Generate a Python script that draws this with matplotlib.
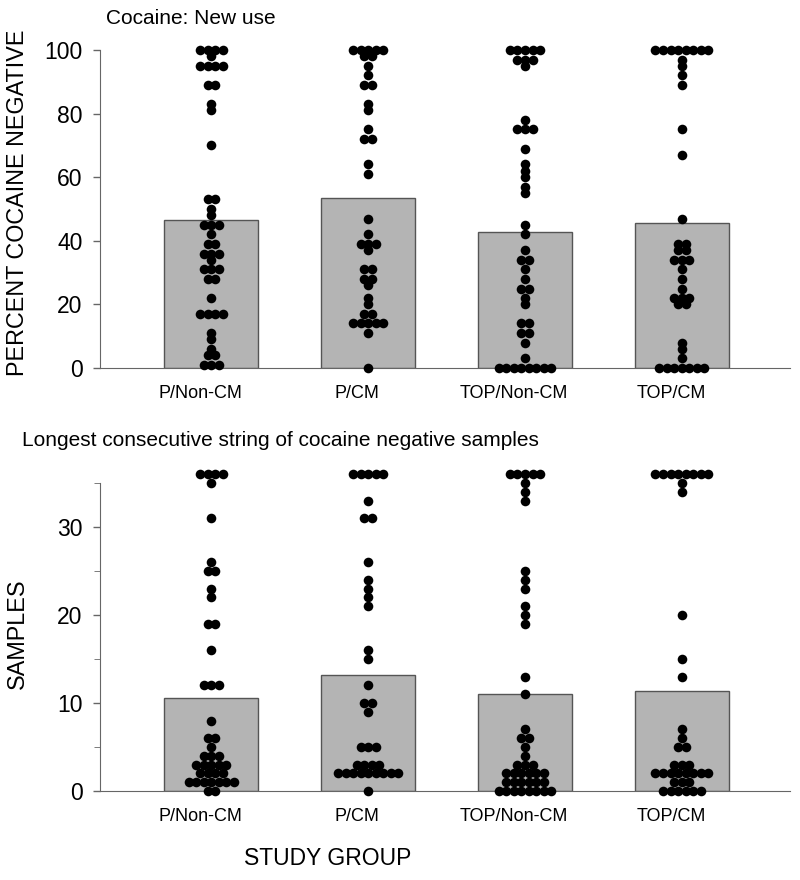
import matplotlib.pyplot as plt
import numpy as np

plt.rcParams["font.family"] = ["Liberation Sans", "DejaVu Sans"]

groups = ["P/Non-CM", "P/CM", "TOP/Non-CM", "TOP/CM"]

# top panel: percent cocaine negative (bar = group mean)
pct_means = [46.5, 53.5, 42.8, 45.6]
pct_p_noncm = [100, 100, 100, 100, 98, 95, 95, 95, 95, 89, 89, 83, 81, 70,
               53, 53, 50, 48, 45, 45, 45, 42, 39, 39, 36, 36, 36, 34,
               31, 31, 31, 28, 28, 22, 17, 17, 17, 17, 11, 9, 6, 4, 4, 1, 1, 1]
pct_p_cm = [100, 100, 100, 100, 100, 98, 98, 95, 92, 89, 89, 83, 81, 75,
            72, 72, 64, 61, 47, 42, 39, 39, 39, 37, 31, 31, 28, 28, 26,
            22, 20, 17, 17, 14, 14, 14, 14, 14, 11, 0]
pct_top_noncm = [100, 100, 100, 100, 100, 97, 97, 97, 95, 78, 75, 75, 75,
                 69, 64, 62, 60, 57, 55, 45, 42, 37, 34, 34, 31, 28, 25, 25,
                 22, 20, 14, 14, 11, 11, 8, 3, 0, 0, 0, 0, 0, 0, 0, 0]
pct_top_cm = [100, 100, 100, 100, 100, 100, 100, 100, 97, 95, 92, 89, 75,
              67, 47, 39, 39, 37, 37, 34, 34, 34, 31, 28, 25, 22, 22, 22,
              20, 20, 8, 6, 3, 0, 0, 0, 0, 0, 0, 0]

# bottom panel: longest consecutive string of negative samples
smp_means = [10.6, 13.2, 11.0, 11.4]
smp_p_noncm = [36, 36, 36, 36, 35, 31, 26, 25, 25, 23, 22, 19, 19, 16,
               12, 12, 12, 8, 6, 6, 5, 4, 4, 4, 3, 3, 3, 3, 3, 2, 2, 2, 2,
               1, 1, 1, 1, 1, 1, 1, 0, 0]
smp_p_cm = [36, 36, 36, 36, 36, 33, 31, 31, 26, 24, 23, 22, 21, 16, 15,
            12, 10, 10, 9, 5, 5, 5, 3, 3, 3, 3, 2, 2, 2, 2, 2, 2, 2, 2, 2, 0]
smp_top_noncm = [36, 36, 36, 36, 36, 35, 34, 33, 25, 24, 23, 21, 20, 19,
                 13, 11, 7, 6, 6, 5, 4, 3, 3, 3, 2, 2, 2, 2, 2, 2,
                 1, 1, 1, 1, 1, 1, 0, 0, 0, 0, 0, 0, 0, 0]
smp_top_cm = [36, 36, 36, 36, 36, 36, 36, 36, 35, 34, 20, 15, 13, 7, 6,
              5, 5, 3, 3, 3, 2, 2, 2, 2, 2, 2, 2, 2, 1, 1, 1,
              0, 0, 0, 0, 0, 0]

pct_data = [pct_p_noncm, pct_p_cm, pct_top_noncm, pct_top_cm]
smp_data = [smp_p_noncm, smp_p_cm, smp_top_noncm, smp_top_cm]

x = np.arange(len(groups))
spacing = 0.048
axis_col = "#666666"


def draw_panel(ax, means, data, ymax):
    ax.bar(x, means, width=0.6, color="#b4b4b4", edgecolor="#555555",
           linewidth=1.0, zorder=1)
    for xi, vals in zip(x, data):
        vals_u, counts = np.unique(vals, return_counts=True)
        for v, n in zip(vals_u, counts):
            offs = (np.arange(n) - (n - 1) / 2) * spacing
            ax.scatter(xi + offs, np.full(n, v), s=48, color="black",
                       linewidths=0, zorder=3, clip_on=False)
    ax.set_xlim(-0.71, 3.69)
    ax.set_ylim(0, ymax)
    ax.spines["top"].set_visible(False)
    ax.spines["right"].set_visible(False)
    ax.spines["left"].set_color(axis_col)
    ax.spines["bottom"].set_color(axis_col)
    ax.set_xticks(x - 0.07)
    ax.set_xticklabels(groups, fontsize=13)
    ax.tick_params(axis="x", length=0, pad=12)
    ax.tick_params(axis="y", labelsize=16.5, length=5, width=1,
                   color=axis_col, direction="out", pad=7.5)


fig = plt.figure(figsize=(8, 8.8), dpi=100)

ax1 = fig.add_axes([0.125, 0.5818, 0.8625, 0.3614])
draw_panel(ax1, pct_means, pct_data, 100)
ax1.set_yticks([0, 20, 40, 60, 80, 100])
ax1.set_ylabel("PERCENT COCAINE NEGATIVE", fontsize=16.8)
ax1.yaxis.set_label_coords(-0.103, 0.52)
fig.text(0.1325, 0.979, "Cocaine: New use", fontsize=15, va="center")

ax2 = fig.add_axes([0.125, 0.1011, 0.8625, 0.35])
draw_panel(ax2, smp_means, smp_data, 35)
ax2.set_yticks([0, 10, 20, 30])
ax2.set_yticks([5, 15, 25, 35], minor=True)
ax2.tick_params(axis="y", which="minor", length=4, color=axis_col)
ax2.set_ylabel("SAMPLES", fontsize=16.8)
ax2.yaxis.set_label_coords(-0.103, 0.51)
fig.text(0.0275, 0.5, "Longest consecutive string of cocaine negative samples",
         fontsize=15, va="center")
fig.text(0.41, 0.025, "STUDY GROUP", fontsize=16.5, ha="center", va="center")

fig.savefig("out.png", dpi=100)
